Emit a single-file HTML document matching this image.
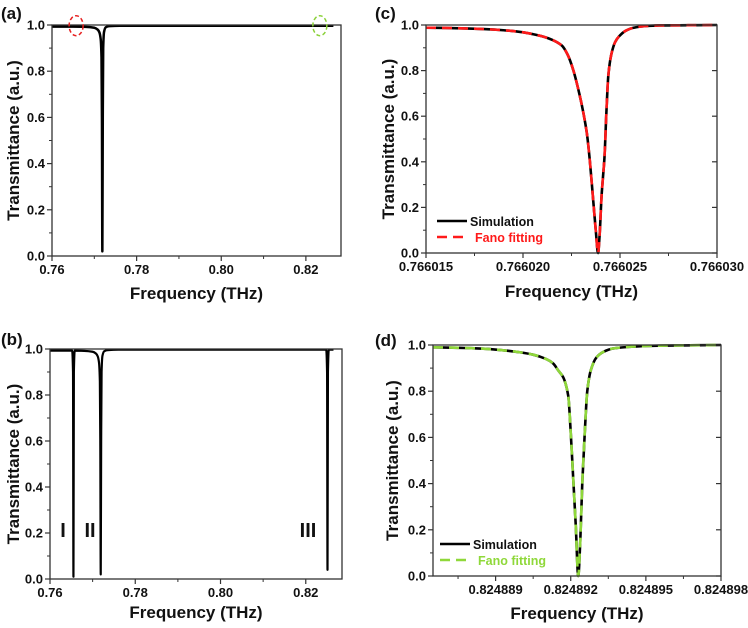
<!DOCTYPE html>
<html><head><meta charset="utf-8"><style>
body{margin:0;background:#fff;width:748px;height:623px;overflow:hidden}
svg{font-family:"Liberation Sans",Arial,sans-serif;font-weight:bold}
</style></head><body>
<svg id="fig" width="748" height="623" viewBox="0 0 748 623"></svg>
<script>
// ---- Panel (a) data ----
const aFreq = [0.760, 0.765, 0.768, 0.7700, 0.7708, 0.7712, 0.7715, 0.7717, 0.7718, 0.7719, 0.7720, 0.7721, 0.7723, 0.7727, 0.7735, 0.776, 0.790, 0.8265];
const aTrans = [0.993, 0.993, 0.992, 0.988, 0.980, 0.968, 0.940, 0.860, 0.600, 0.02, 0.600, 0.900, 0.970, 0.990, 0.995, 0.997, 0.997, 0.997];
// ---- Panel (b) data ----
const bFreq = [0.760, 0.7652, 0.7654, 0.7655, 0.7656, 0.7658, 0.768, 0.7700, 0.7708, 0.7712, 0.7715, 0.7717, 0.7718, 0.7719, 0.7720, 0.7721, 0.7723, 0.7727, 0.7735, 0.776, 0.790, 0.8248, 0.8250, 0.8251, 0.8252, 0.8254, 0.8265];
const bTrans = [0.993, 0.993, 0.90, 0.01, 0.90, 0.993, 0.992, 0.988, 0.980, 0.968, 0.940, 0.860, 0.600, 0.02, 0.600, 0.900, 0.970, 0.990, 0.995, 0.997, 0.997, 0.997, 0.90, 0.04, 0.90, 0.997, 0.997];
// ---- Panel (c) data (offset from 0.766015 THz, in 1e-6 THz) ----
const cOffset = [0, 1, 2, 3, 4, 5, 5.5, 6, 6.5, 7.0, 7.3, 7.6, 7.9, 8.1, 8.3, 8.45, 8.6, 8.75, 8.87, 8.95, 9.05, 9.12, 9.2, 9.3, 9.4, 9.55, 9.75, 9.95, 10.3, 10.7, 11.3, 12, 13.5, 15];
const cSim = [0.988, 0.987, 0.985, 0.982, 0.977, 0.968, 0.960, 0.950, 0.935, 0.910, 0.870, 0.800, 0.700, 0.620, 0.520, 0.400, 0.250, 0.100, 0.000, 0.080, 0.250, 0.330, 0.420, 0.620, 0.780, 0.870, 0.925, 0.950, 0.975, 0.988, 0.995, 0.998, 0.999, 1.000];
const cFit = cSim.slice();
// ---- Panel (d) data (offset from 0.8248865 THz, in 1e-6 THz) ----
const dOffset = [0, 1, 2, 3, 3.5, 4, 4.5, 4.8, 5.0, 5.2, 5.4, 5.5, 5.6, 5.7, 5.8, 5.88, 5.96, 6.06, 6.16, 6.3, 6.52, 6.8, 7.2, 8, 9, 11.5];
const dSim = [0.990, 0.988, 0.984, 0.975, 0.968, 0.958, 0.940, 0.920, 0.890, 0.860, 0.780, 0.620, 0.420, 0.220, 0.000, 0.150, 0.400, 0.620, 0.800, 0.890, 0.945, 0.970, 0.985, 0.993, 0.997, 1.000];
const dFit = dSim.slice();
// ---- ticks ----
const yTicks = [0.0, 0.2, 0.4, 0.6, 0.8, 1.0];
const abXTicks = [0.76, 0.78, 0.80, 0.82];
const cXTicks = [0.766015, 0.766020, 0.766025, 0.766030];
const dXTicks = [0.824889, 0.824892, 0.824895, 0.824898];

const cFreq = cOffset.map(v => 0.766015 + v * 1e-6);
const dFreq = dOffset.map(v => 0.8248865 + v * 1e-6);

const NS = "http://www.w3.org/2000/svg";
const svg = document.getElementById('fig');
function el(tag, attrs, parent, text){
  const e = document.createElementNS(NS, tag);
  for (const k in attrs) e.setAttribute(k, attrs[k]);
  if (text !== undefined) e.textContent = text;
  (parent || svg).appendChild(e);
  return e;
}
// monotone cubic path through points
function monoPath(px, py){
  const n = px.length, m = [], d = [];
  for (let i = 0; i < n-1; i++) d.push((py[i+1]-py[i])/(px[i+1]-px[i] || 1e-9));
  m[0] = d[0]; m[n-1] = d[n-2];
  for (let i = 1; i < n-1; i++) m[i] = (d[i-1]*d[i] <= 0) ? 0 : 3*(d[i-1]+d[i]) / ((2+ (px[i+1]-px[i])/(px[i]-px[i-1]+(px[i+1]-px[i])) )*0+ (d[i-1]+d[i])*0 + (1/d[i-1]+1/d[i])*1.5* (d[i-1]+d[i]) /1.5) ;
  // simpler Fritsch-Carlson harmonic mean
  for (let i = 1; i < n-1; i++) m[i] = (d[i-1]*d[i] <= 0) ? 0 : 2/(1/d[i-1]+1/d[i]);
  let s = `M${px[0].toFixed(2)},${py[0].toFixed(2)}`;
  for (let i = 0; i < n-1; i++){
    const h = px[i+1]-px[i];
    s += ` C${(px[i]+h/3).toFixed(2)},${(py[i]+m[i]*h/3).toFixed(2)} ${(px[i+1]-h/3).toFixed(2)},${(py[i+1]-m[i+1]*h/3).toFixed(2)} ${px[i+1].toFixed(2)},${py[i+1].toFixed(2)}`;
  }
  return s;
}
function panel(o){
  const g = el('g', {});
  
  
  const X = v => o.x0 + (v - o.xmin) / (o.xmax - o.xmin) * (o.x1 - o.x0);
  const Y = v => o.y1 - v / 1.0 * (o.y1 - o.y0);
  o.series.forEach(s => {
    const p = el('path', {d:monoPath(s.xs.map(X), s.ys.map(Y)), fill:'none', stroke:s.color, 'stroke-width':s.w, 'stroke-dasharray':s.dash || 'none', 'stroke-linejoin':'round'}, g);
    
    
  });
  const fr = el('rect', {x:o.x0, y:o.y0, width:o.x1-o.x0, height:o.y1-o.y0, fill:'none', stroke:'#333', 'stroke-width':1.3}, g);
  
  
  yTicks.forEach(t => {
    el('line', {x1:o.x0-5, x2:o.x0, y1:Y(t), y2:Y(t), stroke:'#333', 'stroke-width':1.2}, g);
    if (o.rightTicks) el('line', {x1:o.x1-5, x2:o.x1, y1:Y(t), y2:Y(t), stroke:'#333', 'stroke-width':1.2}, g);
    const tl = el('text', {x:o.x0-7, y:Y(t)+4.5, 'text-anchor':'end', 'font-size':13, fill:'#111'}, g, t.toFixed(1));
    
    
  });
  for (let t = 0.1; t < 1; t += 0.2) el('line', {x1:o.x0-3, x2:o.x0, y1:Y(t), y2:Y(t), stroke:'#333', 'stroke-width':1}, g);
  o.xTicks.forEach((t, i) => {
    el('line', {x1:X(t), x2:X(t), y1:o.y1, y2:o.y1+5, stroke:'#333', 'stroke-width':1.2}, g);
    const tl = el('text', {x:X(t), y:o.y1+18, 'text-anchor':'middle', 'font-size':13, fill:'#111'}, g, o.xLabels ? o.xLabels[i] : t.toFixed(2));
    
    
  });
  (o.minor || []).forEach(t => el('line', {x1:X(t), x2:X(t), y1:o.y1, y2:o.y1+3, stroke:'#333', 'stroke-width':1}, g));
  const xt = el('text', {x:(o.x0+o.x1)/2, y:o.xty, 'text-anchor':'middle', 'font-size':17, fill:'#111'}, g, 'Frequency (THz)');
  
  
  const yc = (o.y0+o.y1)/2;
  const yt = el('text', {x:o.ytx, y:yc, 'text-anchor':'middle', 'font-size':17, fill:'#111', transform:`rotate(-90 ${o.ytx} ${yc})`}, g, 'Transmittance (a.u.)');
  
  
  const pl = el('text', {x:o.lx, y:o.ly, 'font-size':17, fill:'#111'}, g, o.label);
  
  
  return {g, X, Y};
}

const A = panel({name:'panel-a', label:'(a)', lx:1, ly:19, x0:52, x1:341, y0:25, y1:256, xmin:0.76, xmax:0.8283, ytx:19, xty:299,
  xTicks:abXTicks, minor:[0.77,0.79,0.81], series:[{name:'transmittance-line', xs:aFreq, ys:aTrans, color:'#000', w:2.5}]});
const ea = el('ellipse', {cx:A.X(0.7657), cy:A.Y(0.997), rx:7, ry:10, fill:'none', stroke:'#e62020', 'stroke-width':1.5, 'stroke-dasharray':'4 2.5'}, A.g);


const eb = el('ellipse', {cx:A.X(0.8233), cy:A.Y(0.997), rx:7, ry:10, fill:'none', stroke:'#8bd13a', 'stroke-width':1.5, 'stroke-dasharray':'4 2.5'}, A.g);



const B = panel({name:'panel-b', label:'(b)', lx:1, ly:345, x0:50, x1:342, y0:349, y1:579, xmin:0.76, xmax:0.8285, ytx:19, xty:618,
  xTicks:abXTicks, minor:[0.77,0.79,0.81], series:[{name:'transmittance-line', xs:bFreq, ys:bTrans, color:'#000', w:2.2}]});
[['I',63],['II',90],['III',308]].forEach(r => {
  const t = el('text', {x:r[1], y:537, 'text-anchor':'middle', 'font-size':20, fill:'#111'}, B.g, r[0]);
  
  
});

function legend(P, x, y, color, dash){
  const g = el('g', {}, P.g);
  
  
  el('line', {x1:x, x2:x+30, y1:y, y2:y, stroke:'#000', 'stroke-width':2.5}, g);
  el('text', {x:x+33, y:y+5, 'font-size':12.5, fill:'#111'}, g, 'Simulation');
  el('line', {x1:x, x2:x+30, y1:y+16, y2:y+16, stroke:color, 'stroke-width':2.5, 'stroke-dasharray':dash}, g);
  el('text', {x:x+38, y:y+21, 'font-size':12.5, fill:color}, g, 'Fano fitting');
}

const C = panel({name:'panel-c', label:'(c)', lx:375, ly:19, x0:426, x1:717, y0:25, y1:253, xmin:0.766015, xmax:0.766030, ytx:394, xty:297, rightTicks:true,
  xTicks:cXTicks, xLabels:cXTicks.map(v=>v.toFixed(6)), minor:[0.7660175,0.7660225,0.7660275],
  series:[{name:'simulation-line', xs:cFreq, ys:cSim, color:'#000', w:2.6},{name:'fano-fit-line', xs:cFreq, ys:cFit, color:'#ff1a1a', w:2.6, dash:'10 6'}]});
legend(C, 437, 221, '#ff1a1a', '10 6');

const D = panel({name:'panel-d', label:'(d)', lx:375, ly:346, x0:433, x1:721, y0:345, y1:576, xmin:0.8248865, xmax:0.824898, ytx:398, xty:619, rightTicks:true,
  xTicks:dXTicks, xLabels:dXTicks.map(v=>v.toFixed(6)), minor:[0.8248875,0.8248905,0.8248935,0.8248965],
  series:[{name:'simulation-line', xs:dFreq, ys:dSim, color:'#000', w:2.6},{name:'fano-fit-line', xs:dFreq, ys:dFit, color:'#8fd83a', w:2.6, dash:'10 6'}]});
legend(D, 440, 544, '#8fd83a', '10 6');
</script>
</body></html>
